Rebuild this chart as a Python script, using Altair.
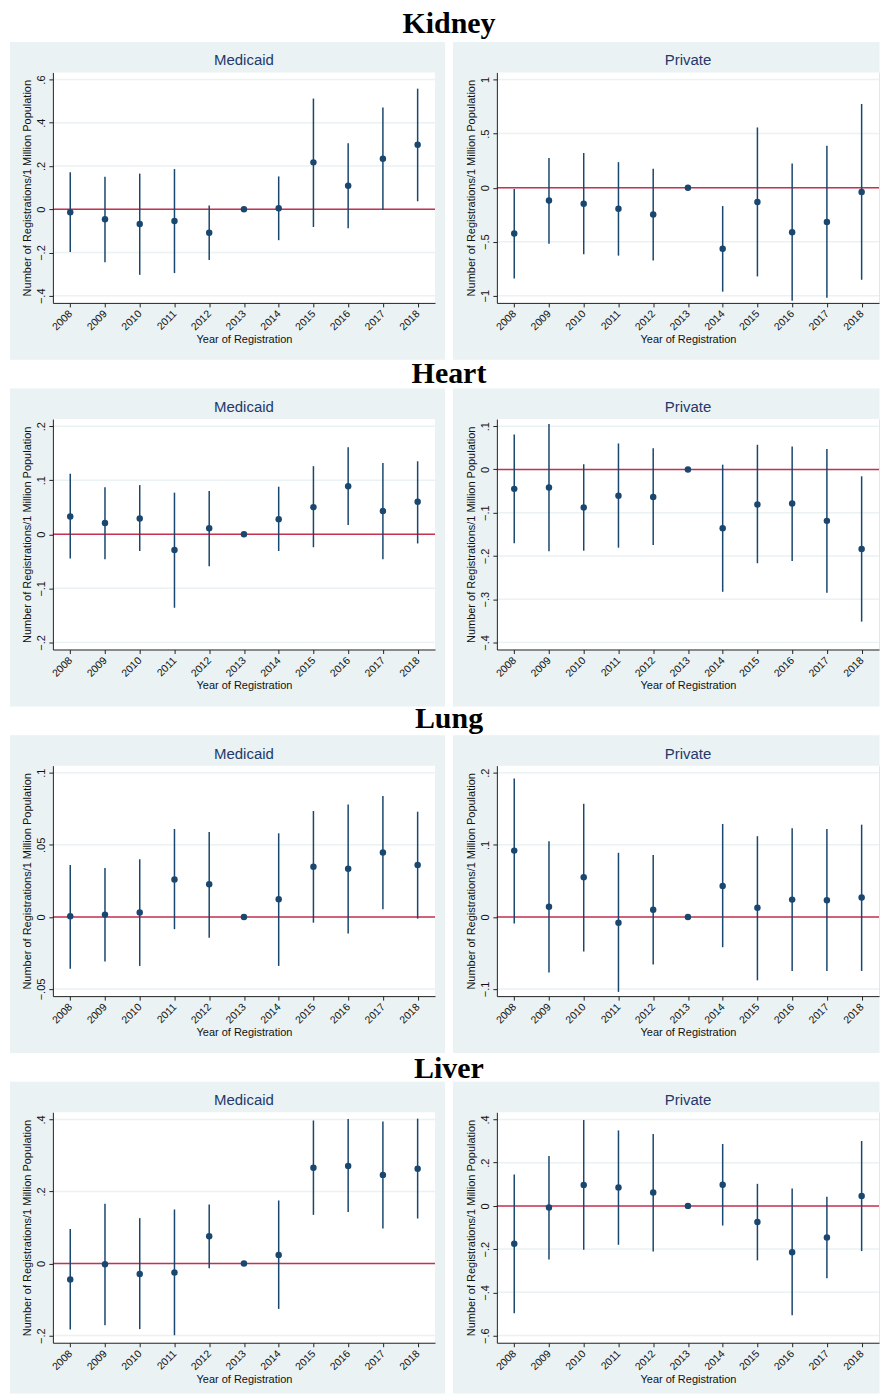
import altair as alt
import pandas as pd

# ---------------------------------------------------------------------------
# Event-study coefficients: registrations per 1 million population,
# relative to 2013 (omitted reference year, shown at 0 without an interval).
# ---------------------------------------------------------------------------
years = [2008, 2009, 2010, 2011, 2012, 2013, 2014, 2015, 2016, 2017, 2018]

organs = ["Kidney", "Heart", "Lung", "Liver"]
payers = ["Medicaid", "Private"]

kidney_medicaid_est = [-0.014, -0.046, -0.068, -0.054, -0.109, 0, 0.005, 0.217, 0.109, 0.234, 0.298]
kidney_medicaid_lo = [-0.198, -0.245, -0.303, -0.295, -0.235, None, -0.143, -0.082, -0.088, -0.003, 0.037]
kidney_medicaid_hi = [0.171, 0.151, 0.165, 0.186, 0.018, None, 0.152, 0.512, 0.305, 0.471, 0.558]
kidney_medicaid_ticks = [-0.4, -0.2, 0, 0.2, 0.4, 0.6]

kidney_private_est = [-0.425, -0.119, -0.148, -0.195, -0.248, 0, -0.566, -0.132, -0.412, -0.318, -0.041]
kidney_private_lo = [-0.840, -0.519, -0.616, -0.629, -0.673, None, -0.962, -0.821, -1.047, -1.019, -0.852]
kidney_private_hi = [-0.013, 0.274, 0.321, 0.236, 0.176, None, -0.170, 0.557, 0.223, 0.387, 0.774]
kidney_private_ticks = [-1, -0.5, 0, 0.5, 1]

heart_medicaid_est = [0.033, 0.021, 0.029, -0.029, 0.011, 0, 0.028, 0.050, 0.089, 0.043, 0.060]
heart_medicaid_lo = [-0.045, -0.046, -0.031, -0.136, -0.059, None, -0.031, -0.024, 0.017, -0.046, -0.017]
heart_medicaid_hi = [0.112, 0.087, 0.091, 0.077, 0.080, None, 0.088, 0.126, 0.161, 0.132, 0.135]
heart_medicaid_ticks = [-0.2, -0.1, 0, 0.1, 0.2]

heart_private_est = [-0.045, -0.042, -0.088, -0.061, -0.064, 0, -0.136, -0.081, -0.079, -0.119, -0.184]
heart_private_lo = [-0.171, -0.189, -0.188, -0.181, -0.175, None, -0.283, -0.217, -0.212, -0.285, -0.352]
heart_private_hi = [0.081, 0.105, 0.012, 0.060, 0.049, None, 0.011, 0.057, 0.053, 0.047, -0.016]
heart_private_ticks = [-0.4, -0.3, -0.2, -0.1, 0, 0.1]

lung_medicaid_est = [0.0005, 0.0016, 0.003, 0.026, 0.0226, 0, 0.0122, 0.0348, 0.0334, 0.0447, 0.036]
lung_medicaid_lo = [-0.036, -0.031, -0.034, -0.0085, -0.0145, None, -0.034, -0.004, -0.0115, 0.0053, -0.0012]
lung_medicaid_hi = [0.036, 0.034, 0.040, 0.061, 0.059, None, 0.058, 0.0735, 0.078, 0.0839, 0.073]
lung_medicaid_ticks = [-0.05, 0, 0.05, 0.1]

lung_private_est = [0.092, 0.014, 0.055, -0.008, 0.0098, 0, 0.043, 0.0126, 0.024, 0.023, 0.027]
lung_private_lo = [-0.009, -0.077, -0.048, -0.104, -0.066, None, -0.042, -0.088, -0.075, -0.075, -0.075]
lung_private_hi = [0.192, 0.105, 0.157, 0.089, 0.086, None, 0.129, 0.112, 0.123, 0.122, 0.128]
lung_private_ticks = [-0.1, 0, 0.1, 0.2]

liver_medicaid_est = [-0.044, -0.002, -0.029, -0.025, 0.076, 0, 0.024, 0.266, 0.271, 0.246, 0.263]
liver_medicaid_lo = [-0.183, -0.171, -0.182, -0.199, -0.013, None, -0.126, 0.135, 0.143, 0.097, 0.125]
liver_medicaid_hi = [0.096, 0.166, 0.126, 0.150, 0.164, None, 0.175, 0.397, 0.401, 0.394, 0.402]
liver_medicaid_ticks = [-0.2, 0, 0.2, 0.4]

liver_private_est = [-0.175, -0.008, 0.097, 0.085, 0.062, 0, 0.098, -0.075, -0.214, -0.146, 0.046]
liver_private_lo = [-0.497, -0.248, -0.203, -0.180, -0.211, None, -0.091, -0.252, -0.506, -0.335, -0.209]
liver_private_hi = [0.145, 0.231, 0.397, 0.349, 0.332, None, 0.286, 0.102, 0.080, 0.042, 0.300]
liver_private_ticks = [-0.6, -0.4, -0.2, 0, 0.2, 0.4]

series = {
    ("Kidney", "Medicaid"): (kidney_medicaid_est, kidney_medicaid_lo, kidney_medicaid_hi, kidney_medicaid_ticks),
    ("Kidney", "Private"): (kidney_private_est, kidney_private_lo, kidney_private_hi, kidney_private_ticks),
    ("Heart", "Medicaid"): (heart_medicaid_est, heart_medicaid_lo, heart_medicaid_hi, heart_medicaid_ticks),
    ("Heart", "Private"): (heart_private_est, heart_private_lo, heart_private_hi, heart_private_ticks),
    ("Lung", "Medicaid"): (lung_medicaid_est, lung_medicaid_lo, lung_medicaid_hi, lung_medicaid_ticks),
    ("Lung", "Private"): (lung_private_est, lung_private_lo, lung_private_hi, lung_private_ticks),
    ("Liver", "Medicaid"): (liver_medicaid_est, liver_medicaid_lo, liver_medicaid_hi, liver_medicaid_ticks),
    ("Liver", "Private"): (liver_private_est, liver_private_lo, liver_private_hi, liver_private_ticks),
}

# ---------------------------------------------------------------------------
# Styling (Stata s2color look)
# ---------------------------------------------------------------------------
W, H = 383, 231
ROW_GAP = 116.4
PANEL_BG = "#EAF2F3"
NAVY = "#1a476f"
REF_RED = "#c8304f"
HEAD_COLOR = "#24396b"
SANS = "Liberation Sans"
SERIF = "Liberation Serif"
title_baselines = [-40, -35.7, -37.8, -33.9]   # row-title baseline above each plot area

one = pd.DataFrame({"k": [0]})
xscale = alt.Scale(domain=[2007.5, 2018.5], nice=False, zero=False)

xaxis = alt.Axis(
    values=years, format="d", title="Year of Registration",
    titleX=W / 2, titleY=36.5, titleAlign="center", titleBaseline="middle",
    titleFont=SANS, titleFontSize=11, titleFontWeight="normal", titleColor="#111",
    labelAngle=315, labelAlign="right", labelBaseline="middle", labelPadding=5, labelOffset=0,
    labelFont=SANS, labelFontSize=10.5, labelColor="#111", labelFlush=False, labelOverlap=False,
    grid=False, domainColor="#222", domainWidth=1, tickColor="#222", tickSize=4, zindex=1,
)


def panel(organ, payer, row, col):
    est, lo, hi, ticks = series[(organ, payer)]
    df = pd.DataFrame({"year": years, "est": est, "lo": lo, "hi": hi})
    bars = df.dropna(subset=["lo", "hi"])
    tmin, tmax = min(ticks), max(ticks)
    pad = (tmax - tmin) * 0.033
    yscale = alt.Scale(domain=[tmin - pad, tmax + pad], nice=False, zero=False)
    yaxis = alt.Axis(
        values=ticks, title="Number of Registrations/1 Million Population",
        labelExpr="replace(format(datum.value, '~g'), '0.', '.')",
        titleX=-25, titleY=H / 2, titleAngle=270, titleAlign="center", titleBaseline="middle",
        titleFont=SANS, titleFontSize=11, titleFontWeight="normal", titleColor="#111",
        labelAngle=270, labelAlign="center", labelBaseline="middle", labelPadding=7,
        labelFont=SANS, labelFontSize=11, labelColor="#111", labelFlush=False, labelOverlap=False,
        grid=False, domainColor="#222", domainWidth=1, tickColor="#222", tickSize=4, zindex=1,
    )

    last_row = row == len(organs) - 1
    bg = alt.Chart(one).mark_rect(fill=PANEL_BG).encode(
        x=alt.value(-43 if col == 0 else -44),
        x2=alt.value(W + 10 if col == 0 else W + 0.5),
        y=alt.value(-30.5),
        y2=alt.value(H + (51 if last_row else 57)),
    )
    plot_bg = alt.Chart(one).mark_rect(fill="white").encode(
        x=alt.value(0), x2=alt.value(W), y=alt.value(0), y2=alt.value(H)
    )
    grid = alt.Chart(pd.DataFrame({"t": ticks})).mark_rule(color=PANEL_BG, strokeWidth=1.5).encode(
        y=alt.Y("t:Q", scale=yscale, axis=yaxis)
    )
    zero = alt.Chart(pd.DataFrame({"t": [0]})).mark_rule(color=REF_RED, strokeWidth=1.5).encode(
        y=alt.Y("t:Q", scale=yscale, axis=yaxis)
    )
    ci = alt.Chart(bars).mark_rule(color=NAVY, strokeWidth=1.5).encode(
        x=alt.X("year:Q", scale=xscale, axis=xaxis),
        y=alt.Y("lo:Q", scale=yscale, axis=yaxis),
        y2="hi:Q",
    )
    pts = alt.Chart(df).mark_circle(color=NAVY, size=42, opacity=1).encode(
        x=alt.X("year:Q", scale=xscale, axis=xaxis),
        y=alt.Y("est:Q", scale=yscale, axis=yaxis),
    )
    head = alt.Chart(one).mark_text(
        text=payer, font=SANS, fontSize=15, color=HEAD_COLOR, align="center", baseline="middle"
    ).encode(x=alt.value(W / 2), y=alt.value(-12))

    layers = [bg, plot_bg, grid, zero, ci, pts, head]
    if col == 0:
        layers.append(
            alt.Chart(one).mark_text(
                text=organ, font=SERIF, fontSize=30, fontWeight="bold", color="black",
                align="center", baseline="alphabetic",
            ).encode(x=alt.value(397), y=alt.value(title_baselines[row]))
        )
        if row == 0:
            # fixes the page origin: plot area starts 52 px from the left, 70 px from the top
            layers.append(
                alt.Chart(one).mark_rect(opacity=0).encode(
                    x=alt.value(-52), x2=alt.value(-51), y=alt.value(-70), y2=alt.value(-69)
                )
            )
    return alt.layer(*layers).properties(width=W, height=H)


panels = [panel(organ, p, r, c) for r, organ in enumerate(organs) for c, p in enumerate(payers)]

chart = (
    alt.concat(*panels, columns=2, spacing={"row": ROW_GAP, "column": 62}, bounds="flush")
    .properties(padding=0)
    .configure_view(stroke=None)
    .configure(background="white")
)

chart.save("out.html", embed_options={"renderer": "svg", "actions": False})
